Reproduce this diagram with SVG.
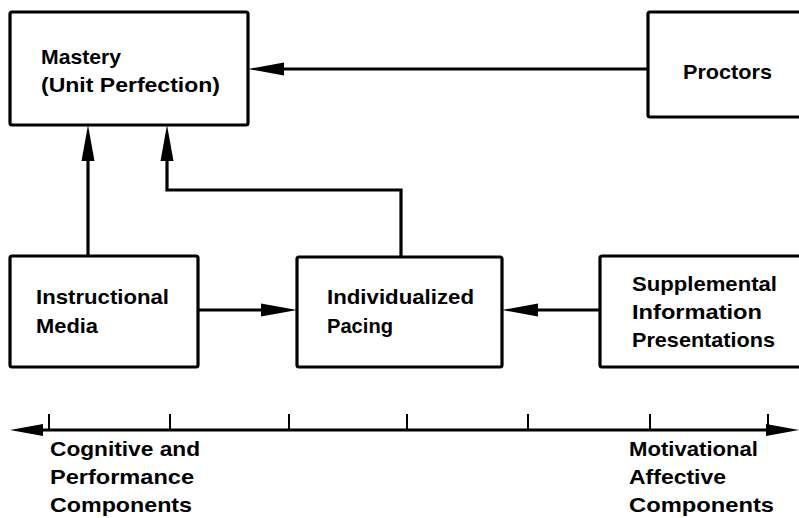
<svg xmlns="http://www.w3.org/2000/svg" width="799" height="518" viewBox="0 0 799 518">
<style>
.box{fill:#fff;stroke:#000;stroke-width:3.2}
.t{font-family:"Liberation Sans",Arial,sans-serif;font-size:21px;font-weight:bold;fill:#000}
.c{fill:none;stroke:#000;stroke-width:3.2}
.tick{stroke:#000;stroke-width:2}
</style>
<defs>
<marker id="ah" markerUnits="userSpaceOnUse" viewBox="0 -7 36 14" markerWidth="36" markerHeight="14" refX="0" refY="0" orient="auto">
<path d="M0,-6.5 L36,0 L0,6.5 Z" fill="#000"/>
</marker>
<marker id="ax" markerUnits="userSpaceOnUse" viewBox="0 -7 33 14" markerWidth="33" markerHeight="14" refX="0" refY="0" orient="auto-start-reverse">
<path d="M0,-6 L33,0 L0,6 Z" fill="#000"/>
</marker>
</defs>
<rect width="799" height="518" fill="#fff"/>

<g id="connectors">
<path class="c" d="M648,69 H284" marker-end="url(#ah)"/>
<path class="c" d="M88,256 V161" marker-end="url(#ah)"/>
<path class="c" d="M401,257 V190 H167 V161" marker-end="url(#ah)"/>
<path class="c" d="M198,310 H261" marker-end="url(#ah)"/>
<path class="c" d="M600,310 H538" marker-end="url(#ah)"/>
</g>

<g id="mastery">
<rect class="box" x="10" y="12" width="238" height="113" rx="2"/>
<text class="t" x="41" y="64" textLength="80" lengthAdjust="spacingAndGlyphs">Mastery</text>
<text class="t" x="41" y="92" textLength="179" lengthAdjust="spacingAndGlyphs">(Unit Perfection)</text>
</g>

<g id="proctors">
<rect class="box" x="648" y="12" width="170" height="105" rx="2"/>
<text class="t" x="683" y="79" textLength="89" lengthAdjust="spacingAndGlyphs">Proctors</text>
</g>

<g id="instructional-media">
<rect class="box" x="10" y="256" width="188" height="111" rx="2"/>
<text class="t" x="36" y="304" textLength="133" lengthAdjust="spacingAndGlyphs">Instructional</text>
<text class="t" x="36" y="333" textLength="62" lengthAdjust="spacingAndGlyphs">Media</text>
</g>

<g id="individualized-pacing">
<rect class="box" x="297" y="257" width="205" height="110" rx="2"/>
<text class="t" x="327" y="304" textLength="147" lengthAdjust="spacingAndGlyphs">Individualized</text>
<text class="t" x="327" y="333" textLength="66" lengthAdjust="spacingAndGlyphs">Pacing</text>
</g>

<g id="supplemental">
<rect class="box" x="600" y="256" width="220" height="111" rx="2"/>
<text class="t" x="632" y="291" textLength="145" lengthAdjust="spacingAndGlyphs">Supplemental</text>
<text class="t" x="632" y="319" textLength="130" lengthAdjust="spacingAndGlyphs">Information</text>
<text class="t" x="632" y="347" textLength="143" lengthAdjust="spacingAndGlyphs">Presentations</text>
</g>

<g id="axis">
<path class="c" d="M43,430 H766" marker-start="url(#ax)" marker-end="url(#ax)"/>
<path class="tick" d="M49,414 V430 M170,414 V430 M289,414 V430 M407,414 V430 M528,414 V430 M650,414 V430 M768,414 V430"/>
</g>

<g id="left-label">
<text class="t" x="50" y="456" textLength="150" lengthAdjust="spacingAndGlyphs">Cognitive and</text>
<text class="t" x="50" y="484" textLength="144" lengthAdjust="spacingAndGlyphs">Performance</text>
<text class="t" x="50" y="512" textLength="142" lengthAdjust="spacingAndGlyphs">Components</text>
</g>

<g id="right-label">
<text class="t" x="629" y="456" textLength="129" lengthAdjust="spacingAndGlyphs">Motivational</text>
<text class="t" x="629" y="484" textLength="97" lengthAdjust="spacingAndGlyphs">Affective</text>
<text class="t" x="629" y="512" textLength="145" lengthAdjust="spacingAndGlyphs">Components</text>
</g>
</svg>
